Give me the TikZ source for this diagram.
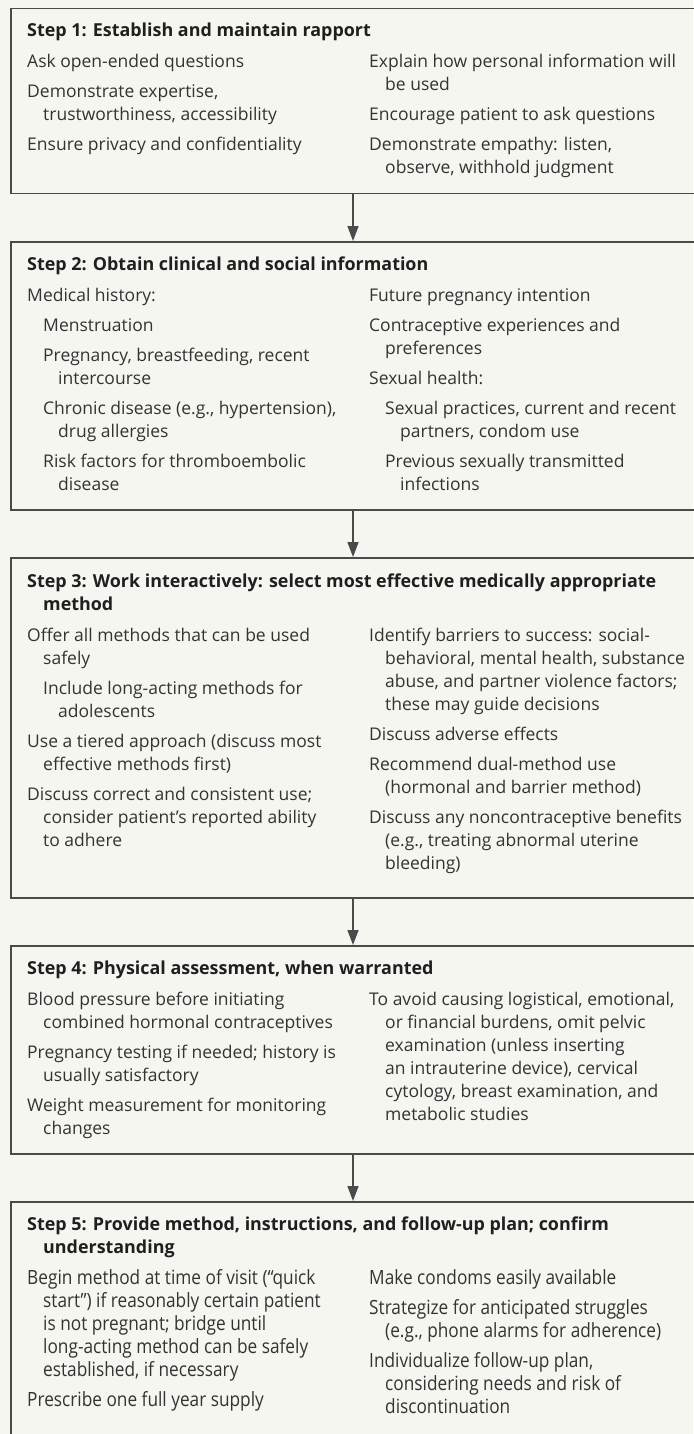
\documentclass[tikz,border=0pt]{standalone}
\usepackage{fontspec}
\setmainfont{Open Sans}
\newfontfamily\condfont{Open Sans}[FakeStretch=0.88]
\usetikzlibrary{arrows.meta}
\definecolor{bg}{HTML}{F6F6F0}
\definecolor{boxline}{HTML}{4A4A4A}
\definecolor{txt}{HTML}{333333}
\definecolor{hdr}{HTML}{1F1F1F}
\newcommand{\ind}{\hspace*{16pt}}
\newcommand{\indd}{\hspace*{31pt}}
\newcommand{\col}[1]{\begin{tabular}[t]{@{}l@{}}#1\end{tabular}}
\tikzset{
  stepbox/.style={draw=boxline, line width=1.5pt, rectangle, anchor=north west,
    minimum width=700pt, inner sep=0pt},
  hdrtext/.style={anchor=base west, inner sep=0pt, text=hdr,
    font=\fontsize{17.9}{23}\selectfont\bfseries},
  bodytext/.style={anchor=base west, inner sep=0pt, text=txt,
    font=\fontsize{17.5}{23}\selectfont},
  condtext/.style={anchor=base west, inner sep=0pt, text=txt,
    font=\condfont\fontsize{19.6}{23}\selectfont},
  flow/.style={draw=boxline, line width=1.5pt, -{Triangle[length=15pt,width=11pt]}},
}
\begin{document}
\begin{tikzpicture}[x=1pt,y=-1pt]
\useasboundingbox (0,0) rectangle (693,1434);
\fill[bg] (0,0) rectangle (693,1434);

% boxes
\node[stepbox, minimum height=185pt] (b1) at (10,8) {};
\node[stepbox, minimum height=268pt] (b2) at (10,241) {};
\node[stepbox, minimum height=340pt] (b3) at (10,557) {};
\node[stepbox, minimum height=208pt] (b4) at (10,945) {};
\node[stepbox, minimum height=260pt] (b5) at (10,1201) {};

% arrows
\coordinate (ax) at (353,0);
\draw[flow] (b1.south -| ax) -- (b2.north -| ax);
\draw[flow] (b2.south -| ax) -- (b3.north -| ax);
\draw[flow] (b3.south -| ax) -- (b4.north -| ax);
\draw[flow] (b4.south -| ax) -- (b5.north -| ax);

% Step 1
\node[hdrtext] (h1) at (27,37) {Step 1: Establish and maintain rapport};
\node[bodytext] (s1l) at (27,68) {\col{%
Ask open-ended questions\\[7pt]
Demonstrate expertise,\\
\ind trustworthiness, accessibility\\[7pt]
Ensure privacy and confidentiality}};
\node[bodytext] (s1r) at (369,68) {\col{%
Explain how personal information will\\
\ind be used\\[7pt]
Encourage patient to ask questions\\[7pt]
Demonstrate empathy: listen,\\
\ind observe, withhold judgment}};

% Step 2
\node[hdrtext] (h2) at (27,270) {Step 2: Obtain clinical and social information};
\node[bodytext] (s2l) at (27,301) {\col{%
Medical history:\\[7pt]
\ind Menstruation\\[7pt]
\ind Pregnancy, breastfeeding, recent\\
\indd intercourse\\[7pt]
\ind Chronic disease (e.g., hypertension),\\
\indd drug allergies\\[7pt]
\ind Risk factors for thromboembolic\\
\indd disease}};
\node[bodytext] (s2r) at (369,301) {\col{%
Future pregnancy intention\\[7pt]
Contraceptive experiences and\\
\ind preferences\\[7pt]
Sexual health:\\[7pt]
\ind Sexual practices, current and recent\\
\indd partners, condom use\\[7pt]
\ind Previous sexually transmitted\\
\indd infections}};

% Step 3
\node[hdrtext] (h3) at (27,587) {\col{%
Step 3: Work interactively: select most effective medically appropriate\\
\ind method}};
\node[bodytext] (s3l) at (27,641) {\col{%
Offer all methods that can be used\\
\ind safely\\[7pt]
\ind Include long-acting methods for\\
\indd adolescents\\[7pt]
Use a tiered approach (discuss most\\
\ind effective methods first)\\[7pt]
Discuss correct and consistent use;\\
\ind consider patient’s reported ability\\
\ind to adhere}};
\node[bodytext] (s3r) at (369,641) {\col{%
Identify barriers to success: social-\\
\ind behavioral, mental health, substance\\
\ind abuse, and partner violence factors;\\
\ind these may guide decisions\\[7pt]
Discuss adverse effects\\[7pt]
Recommend dual-method use\\
\ind (hormonal and barrier method)\\[7pt]
Discuss any noncontraceptive benefits\\
\ind (e.g., treating abnormal uterine\\
\ind bleeding)}};

% Step 4
\node[hdrtext] (h4) at (27,974) {Step 4: Physical assessment, when warranted};
\node[bodytext] (s4l) at (27,1005) {\col{%
Blood pressure before initiating\\
\ind combined hormonal contraceptives\\[7pt]
Pregnancy testing if needed; history is\\
\ind usually satisfactory\\[7pt]
Weight measurement for monitoring\\
\ind changes}};
\node[bodytext] (s4r) at (369,1005) {\col{%
To avoid causing logistical, emotional,\\
\ind or financial burdens, omit pelvic\\
\ind examination (unless inserting\\
\ind an intrauterine device), cervical\\
\ind cytology, breast examination, and\\
\ind metabolic studies}};

% Step 5
\node[hdrtext] (h5) at (27,1230) {\col{%
Step 5: Provide method, instructions, and follow-up plan; confirm\\
\ind understanding}};
\node[condtext] (s5l) at (27,1284) {\col{%
Begin method at time of visit (“quick\\
\ind start”) if reasonably certain patient\\
\ind is not pregnant; bridge until\\
\ind long-acting method can be safely\\
\ind established, if necessary\\[7pt]
Prescribe one full year supply}};
\node[condtext] (s5r) at (369,1284) {\col{%
Make condoms easily available\\[7pt]
Strategize for anticipated struggles\\
\ind (e.g., phone alarms for adherence)\\[7pt]
Individualize follow-up plan,\\
\ind considering needs and risk of\\
\ind discontinuation}};
\end{tikzpicture}
\end{document}
